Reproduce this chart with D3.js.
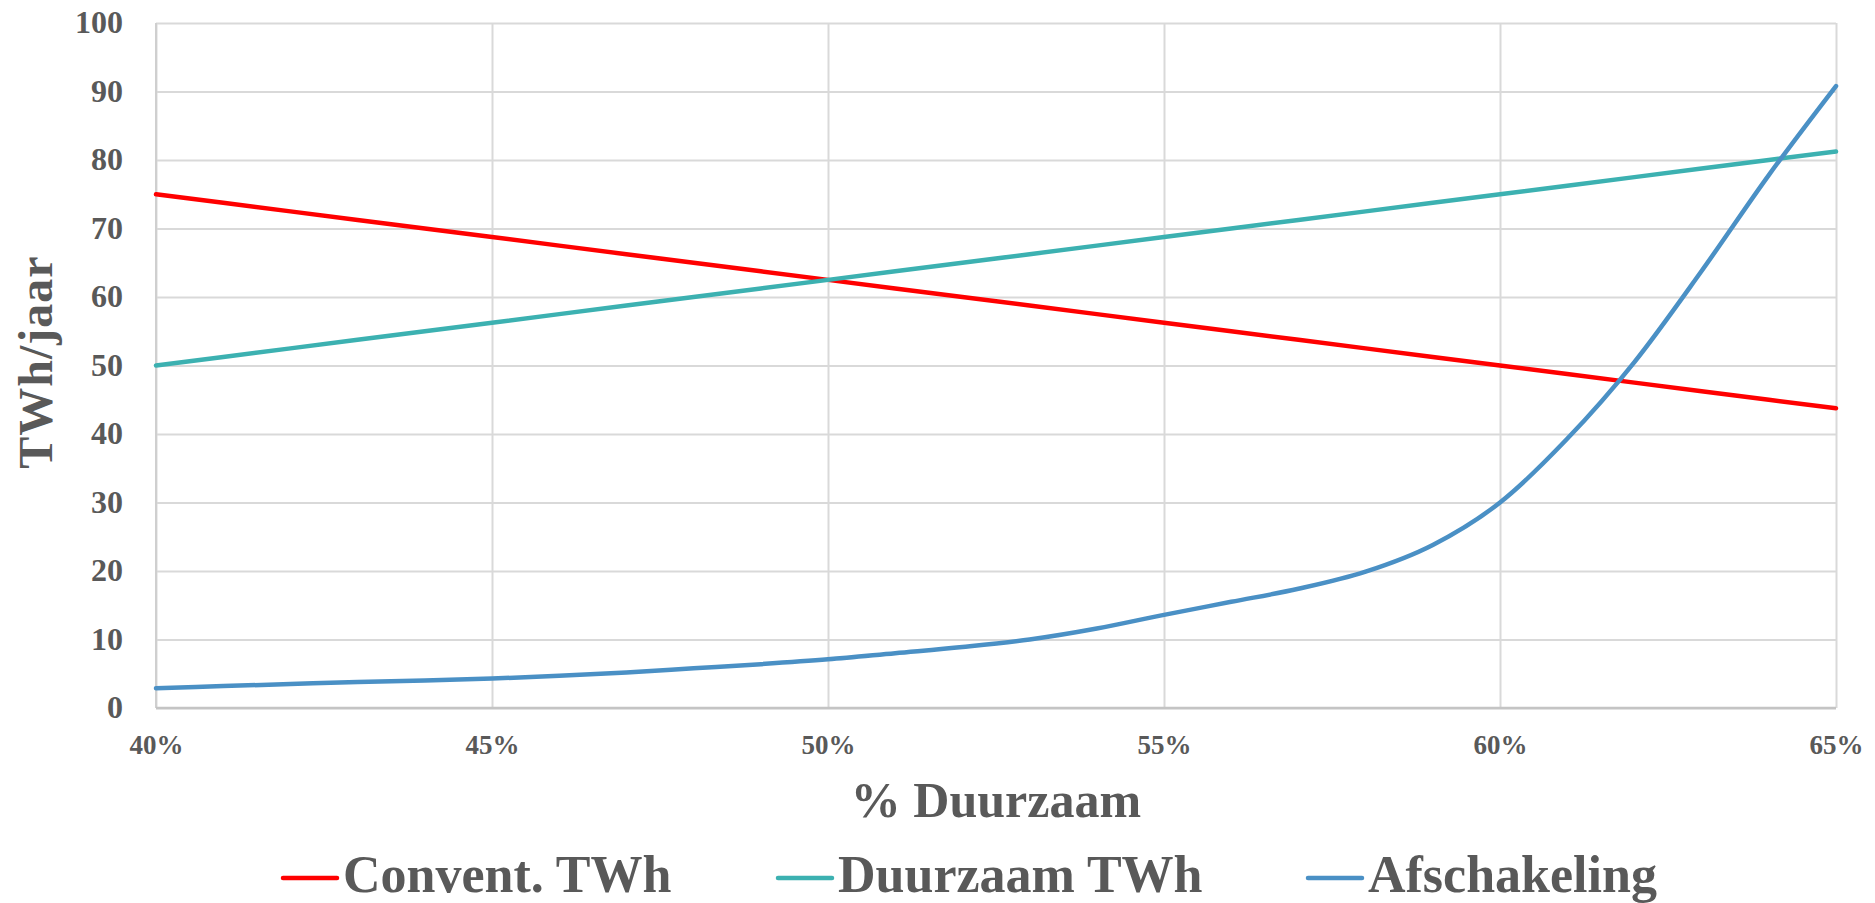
<!DOCTYPE html>
<html>
<head>
<meta charset="utf-8">
<script src="https://cdn.jsdelivr.net/npm/d3@7"></script>
<style>
    body { margin: 0; background: #fff; }
    text { font-family: "Liberation Serif", "DejaVu Serif", serif; font-weight: bold; fill: #595959; }
</style>
</head>
<body>
<svg id="grafico" width="1875" height="903"></svg>
<script>
// aandeel duurzaam (x-as)
var percentages = [0.40, 0.41, 0.42, 0.43, 0.44, 0.45, 0.46, 0.47, 0.48, 0.49, 0.50, 0.51, 0.52,
                   0.53, 0.54, 0.55, 0.56, 0.57, 0.58, 0.59, 0.60, 0.61, 0.62, 0.63, 0.64, 0.65];

var conventTWh = [75, 73.75, 72.5, 71.25, 70, 68.75, 67.5, 66.25, 65, 63.75, 62.5, 61.25, 60,
                  58.75, 57.5, 56.25, 55, 53.75, 52.5, 51.25, 50, 48.75, 47.5, 46.25, 45, 43.75];

var duurzaamTWh = [50, 51.25, 52.5, 53.75, 55, 56.25, 57.5, 58.75, 60, 61.25, 62.5, 63.75, 65,
                   66.25, 67.5, 68.75, 70, 71.25, 72.5, 73.75, 75, 76.25, 77.5, 78.75, 80, 81.25];

var afschakeling = [2.9, 3.2, 3.5, 3.8, 4.0, 4.3, 4.7, 5.2, 5.8, 6.4, 7.1, 8.0, 8.9,
                    10.0, 11.6, 13.6, 15.5, 17.4, 19.9, 23.8, 30.0, 39.3, 50.5, 63.8, 77.8, 90.8];

var seriesNamen = ["Convent. TWh", "Duurzaam TWh", "Afschakeling"];
var seriesKleuren = ["#ff0000", "#3cb1b1", "#4a90c5"];

var xTicks = [0.40, 0.45, 0.50, 0.55, 0.60, 0.65];
var yTicks = [0, 10, 20, 30, 40, 50, 60, 70, 80, 90, 100];

var links = 156, rechts = 1836, boven = 23, onder = 708;

var svg = d3.select("#grafico");

var x = d3.scaleLinear().domain([0.40, 0.65]).range([links, rechts]);
var y = d3.scaleLinear().domain([0, 100]).range([onder, boven]);

// rasterlijnen
svg.append("g")
    .attr("transform", "translate(" + links + ",0)")
    .call(d3.axisLeft(y).tickValues(yTicks).tickSize(-(rechts - links)).tickFormat(""))
    .call(g => g.select(".domain").remove())
    .call(g => g.selectAll("line").attr("stroke", "#d9d9d9").attr("stroke-width", 2));

svg.append("g")
    .attr("transform", "translate(0," + onder + ")")
    .call(d3.axisBottom(x).tickValues(xTicks).tickSize(-(onder - boven)).tickFormat(""))
    .call(g => g.select(".domain").remove())
    .call(g => g.selectAll("line").attr("stroke", "#d9d9d9").attr("stroke-width", 2));

// aslijnen
svg.append("line")
    .attr("x1", links).attr("x2", links).attr("y1", boven).attr("y2", onder)
    .attr("stroke", "#cfcfcf").attr("stroke-width", 2);
svg.append("line")
    .attr("x1", links).attr("x2", rechts).attr("y1", onder).attr("y2", onder)
    .attr("stroke", "#c4c4c4").attr("stroke-width", 2.5);

// y labels
svg.append("g")
    .attr("transform", "translate(" + links + ",0)")
    .call(d3.axisLeft(y).tickValues(yTicks).tickSize(0).tickPadding(33))
    .call(g => g.select(".domain").remove())
    .call(g => g.selectAll("text")
        .attr("fill", null)
        .style("font-size", "32px")
        .attr("dy", "0.3em"));

// x labels
svg.append("g")
    .attr("transform", "translate(0," + onder + ")")
    .call(d3.axisBottom(x).tickValues(xTicks).tickSize(0).tickFormat(d3.format(".0%")))
    .call(g => g.select(".domain").remove())
    .call(g => g.selectAll("text")
        .attr("fill", null)
        .style("font-size", "27px")
        .attr("y", 46)
        .attr("dy", 0));

// astitels
svg.append("text")
    .attr("x", (links + rechts) / 2)
    .attr("y", 817)
    .attr("text-anchor", "middle")
    .style("font-size", "50px")
    .text("% Duurzaam");

svg.append("text")
    .attr("transform", "translate(52,362) rotate(-90)")
    .attr("text-anchor", "middle")
    .style("font-size", "48px")
    .style("letter-spacing", "1px")
    .text("TWh/jaar");

// lijnen
var alleSeries = [conventTWh, duurzaamTWh, afschakeling];

alleSeries.forEach(function(waarden, i) {
    var lijn = d3.line()
        .x(function(d, j) { return x(percentages[j]); })
        .y(function(d) { return y(d); });
    if (i == 2) {
        lijn.curve(d3.curveCardinal.tension(0));
    }
    svg.append("path")
        .datum(waarden)
        .attr("d", lijn)
        .attr("fill", "none")
        .attr("stroke", seriesKleuren[i])
        .attr("stroke-width", 4.5)
        .attr("stroke-linecap", "round")
        .attr("stroke-linejoin", "round");
});

// legenda
var legendaX = [283, 778, 1308];
var legendaY = 878;

seriesNamen.forEach(function(naam, i) {
    var item = svg.append("g").attr("transform", "translate(" + legendaX[i] + "," + legendaY + ")");
    item.append("line")
        .attr("x1", 0).attr("x2", 54)
        .attr("stroke", seriesKleuren[i])
        .attr("stroke-width", 4.5)
        .attr("stroke-linecap", "round");
    item.append("text")
        .attr("x", 60)
        .attr("y", 14)
        .style("font-size", "52px")
        .text(naam);
});
</script>
</body>
</html>
